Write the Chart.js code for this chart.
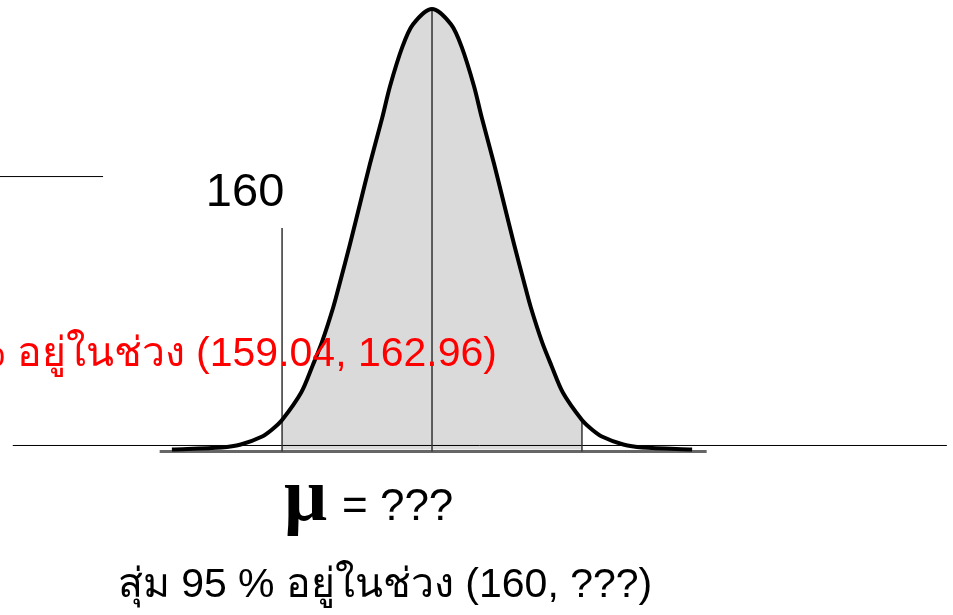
<!DOCTYPE html>
<html>
<head>
<meta charset="utf-8">
<script src="https://cdn.jsdelivr.net/npm/chart.js@4/dist/chart.umd.min.js"></script>
<style>
  html, body { margin: 0; padding: 0; background: #fff; }
  #wrap { width: 953px; height: 615px; }
</style>
</head>
<body>
<div id="wrap"><canvas id="chart" width="953" height="615"></canvas></div>
<script>
const curveX = [157.60, 158.25, 158.50, 158.78, 158.91, 159.04, 159.29, 159.44, 159.56, 159.71,
  159.80, 159.93, 160.06, 160.19, 160.35, 160.45, 160.61, 160.75, 161.00,
  161.25, 161.39, 161.55, 161.65, 161.81, 161.94, 162.07, 162.20, 162.29, 162.44,
  162.56, 162.71, 162.96, 163.09, 163.22, 163.50, 163.75, 164.40];
const curveY = [0.0000, 0.0018, 0.0045, 0.0118, 0.0182, 0.0268, 0.0518, 0.0764, 0.0973, 0.1295,
  0.1527, 0.1873, 0.2236, 0.2600, 0.3018, 0.3300, 0.3655, 0.3864, 0.4005,
  0.3864, 0.3655, 0.3300, 0.3018, 0.2600, 0.2236, 0.1873, 0.1527, 0.1295, 0.0973,
  0.0764, 0.0518, 0.0268, 0.0182, 0.0118, 0.0045, 0.0018, 0.0000];

// interval and mean markers
const lowerBound = 159.04;
const upperBound = 162.96;
const markerX = [159.04, 161, 162.96];
const markerTop = [0.2014, 0.3990, 0.0268];

// reference rules: [x0, x1, y]
const axisRule = [155.52, 167.73, 0.0036];
const baseRule = [157.44, 164.59, -0.0018];
const cornerRule = [155.30, 156.70, 0.2481];

const labelMark = '160';
const labelRange = '95 % อยู่ในช่วง (159.04, 162.96)';
const labelMu = 'μ';
const labelMuRest = '= ???';
const labelBottom = 'สุ่ม 95 % อยู่ในช่วง (160, ???)';

const curvePts = curveX.map((x, i) => ({ x, y: curveY[i] }));
const shadePts = curvePts.filter(p => p.x >= lowerBound && p.x <= upperBound);

const seg = (x0, x1, y0, y1) => [{ x: x0, y: y0 }, { x: x1, y: y1 }];

const lineSet = (data, color, width, order) => ({
  data,
  showLine: true,
  borderColor: color,
  borderWidth: width,
  pointRadius: 0,
  fill: false,
  tension: 0,
  order,
});

const datasets = [
  {
    data: shadePts,
    showLine: true,
    borderWidth: 0,
    borderColor: 'rgba(0,0,0,0)',
    backgroundColor: '#dadada',
    fill: 'origin',
    pointRadius: 0,
    tension: 0.3,
    order: 20,
  },
  lineSet(seg(baseRule[0], baseRule[1], baseRule[2], baseRule[2]), '#666', 3, 15),
  lineSet(seg(axisRule[0], axisRule[1], axisRule[2], axisRule[2]), '#000', 1, 12),
  lineSet(seg(cornerRule[0], cornerRule[1], cornerRule[2], cornerRule[2]), '#000', 1, 12),
  ...markerX.map((x, i) => lineSet(seg(x, x, baseRule[2], markerTop[i]), '#333', 1.5, 10)),
  {
    ...lineSet(curvePts, '#000', 4, 1),
    tension: 0.3,
  },
];

const textPlugin = {
  id: 'slideText',
  afterDraw(chart) {
    const { ctx } = chart;
    const xs = chart.scales.x;
    ctx.save();
    ctx.textBaseline = 'alphabetic';

    ctx.fillStyle = '#000';
    ctx.font = '47px "Liberation Sans", Arial, sans-serif';
    ctx.textAlign = 'center';
    ctx.fillText(labelMark, xs.getPixelForValue(lowerBound) - 37, 206);

    ctx.fillStyle = '#ff0000';
    ctx.font = '41px "Liberation Sans", Arial, sans-serif';
    ctx.textAlign = 'right';
    ctx.fillText(labelRange, 497, 366);

    ctx.fillStyle = '#000';
    ctx.font = 'bold 76px "Liberation Serif", "DejaVu Serif", serif';
    ctx.textAlign = 'left';
    ctx.fillText(labelMu, 284, 520);
    ctx.font = '44px "Liberation Sans", Arial, sans-serif';
    ctx.fillText(labelMuRest, 342, 520);

    ctx.font = '41px "Liberation Sans", Arial, sans-serif';
    ctx.textAlign = 'center';
    ctx.fillText(labelBottom, 385, 597);
    ctx.restore();
  },
};

new Chart(document.getElementById('chart'), {
  type: 'scatter',
  data: { datasets },
  options: {
    responsive: false,
    animation: false,
    layout: { padding: 0 },
    plugins: { legend: { display: false }, tooltip: { enabled: false } },
    scales: {
      x: { type: 'linear', min: 155.353, max: 167.81, display: false },
      y: { type: 'linear', min: -0.1505, max: 0.4086, display: false },
    },
  },
  plugins: [textPlugin],
});
</script>
</body>
</html>
